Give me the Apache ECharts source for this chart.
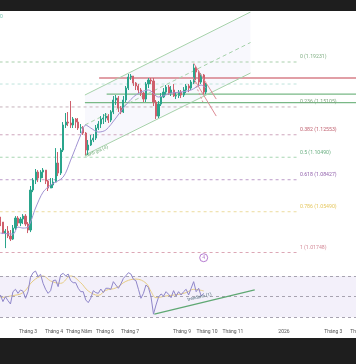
<!DOCTYPE html>
<html>
<head>
<meta charset="utf-8">
<style>html,body{margin:0;padding:0;background:#fff}#c{width:356px;height:364px}</style>
<script src="https://cdn.jsdelivr.net/npm/echarts@6/dist/echarts.min.js"></script>
</head>
<body>
<div id="c"></div>
<script>
// ---- Candles (every third calendar day from firstCandle)
const firstCandle = '2025-01-27';
const stepDays = 3;
const firstOpen = 1.0500;
const closes = [1.0454,1.0353,1.0371,1.0326,1.0298,1.0399,1.0491,1.0445,1.0482,1.0509,1.0436,1.0381,1.0748,1.0840,1.0913,1.0858,1.0913,1.0931,1.0830,1.0766,1.0794,1.0821,1.0996,1.0904,1.1115,1.1345,1.1372,1.1363,1.1345,1.1400,1.1372,1.1317,1.1320,1.1271,1.1115,1.1161,1.1207,1.1225,1.1317,1.1354,1.1400,1.1409,1.1427,1.1390,1.1464,1.1574,1.1592,1.1501,1.1464,1.1574,1.1684,1.1785,1.1794,1.1730,1.1703,1.1666,1.1638,1.1583,1.1721,1.1758,1.1749,1.1556,1.1427,1.1537,1.1602,1.1647,1.1693,1.1638,1.1666,1.1611,1.1615,1.1647,1.1620,1.1666,1.1703,1.1684,1.1739,1.1868,1.1831,1.1739,1.1804,1.1647,1.1721];
const highs = [1.0491,1.0454,1.0390,1.0417,1.0381,1.0427,1.0509,1.0509,1.0500,1.0527,1.0527,1.0454,1.0785,1.0858,1.0941,1.0931,1.0931,1.0950,1.0931,1.0840,1.0858,1.0858,1.1133,1.1097,1.1133,1.1372,1.1455,1.1464,1.1565,1.1418,1.1409,1.1409,1.1354,1.1335,1.1280,1.1207,1.1253,1.1262,1.1345,1.1381,1.1427,1.1445,1.1455,1.1445,1.1482,1.1611,1.1620,1.1611,1.1519,1.1611,1.1703,1.1813,1.1813,1.1794,1.1739,1.1721,1.1684,1.1647,1.1739,1.1776,1.1776,1.1776,1.1574,1.1565,1.1638,1.1684,1.1712,1.1712,1.1703,1.1721,1.1647,1.1666,1.1666,1.1693,1.1721,1.1721,1.1758,1.1904,1.1886,1.1849,1.1822,1.1813,1.1730];
const lows = [1.0417,1.0344,1.0215,1.0307,1.0280,1.0289,1.0381,1.0417,1.0417,1.0436,1.0417,1.0353,1.0362,1.0729,1.0803,1.0821,1.0821,1.0858,1.0803,1.0739,1.0766,1.0766,1.0821,1.0876,1.0886,1.1097,1.1317,1.1335,1.1317,1.1317,1.1317,1.1299,1.1271,1.1253,1.1069,1.1069,1.1152,1.1188,1.1207,1.1299,1.1317,1.1354,1.1372,1.1363,1.1372,1.1445,1.1528,1.1464,1.1445,1.1455,1.1556,1.1666,1.1758,1.1703,1.1666,1.1638,1.1611,1.1556,1.1556,1.1684,1.1721,1.1519,1.1400,1.1409,1.1519,1.1592,1.1620,1.1620,1.1611,1.1602,1.1583,1.1592,1.1592,1.1602,1.1638,1.1647,1.1666,1.1721,1.1758,1.1703,1.1721,1.1620,1.1629];
// ---- Moving average over the candles (candle index, price)
const maAt = [0,5,7,9,11,14,17,20,25,28,32,34,36,39,42,46,49,53,56,59,63,68,72,76,80,82];
const maValues = [1.0353,1.0344,1.0408,1.0399,1.0408,1.0583,1.0729,1.0794,1.0867,1.1023,1.1253,1.1345,1.1317,1.1280,1.1299,1.1409,1.1501,1.1602,1.1647,1.1666,1.1602,1.1638,1.1647,1.1666,1.1712,1.1684];
// ---- RSI pane
const rsiValues = [51.6,45.2,50,46.1,42.9,54.8,57.1,53.2,56.5,55.2,48.4,54.8,68.7,73.2,74.8,69.4,71.6,62.9,57.1,53.2,55.8,65.5,66.1,59.7,71,72.6,70,71.9,65.5,63.5,63.5,58.1,54.8,54.8,46.8,44.2,48.4,55.8,53.9,53.2,57.4,53.9,58.1,58.1,57.1,64.5,61.3,58.1,62.3,67.7,70.3,73.2,71.9,66.8,65.5,57.1,48.4,53.2,61.3,58.7,50,33,41.9,49.4,52.6,50.6,54.8,52.3,49,55.8,50.6,54.8,51.6,54.8,57.1,51.6,58.1,64.5,54.8,58.1,50.6,53.2];
const rsiMaAt = [0,4,9,13,17,20,24,28,32,35,39,42,46,50,54,58,60,62,66,71,74,77,81];
const rsiMaValues = [49,50.6,53.9,65.2,70,65.2,62.9,70,63.5,55.5,51.3,56.1,58.4,64.8,67,63.1,55,49,50.6,52.2,53.9,57.1,55.5];
const rsiLevels = [70,50,30];
const rsiRange = [22.5,77.75];
// ---- Fibonacci levels
const fibStart = '2025-01-26', fibEnd = '2026-01-16', fibLabelAt = '2026-01-20';
const fibPrices = [1.19231,1.15105,1.12553,1.10490,1.08427,1.05490,1.01748];
const fibLabels = ['0 (1.19231)','0.236 (1.15105)','0.382 (1.12553)','0.5 (1.10490)','0.618 (1.08427)','0.786 (1.05490)','1 (1.01748)'];
const fibTextColors = ['#7fae82','#7fa67f','#c0606f','#6bb083','#9160ab','#e5c75f','#d48a98'];
const fibLineColors = ['#a9d0ac','#c7b3bb','#cfa6bd','#a8d6b3','#bd9cc9','#ecdc9e','#dca7b5'];
const extraLevelPrice = 1.1721;
// ---- Horizontal zones
const zoneEnd = '2026-04-21';
const redLine = {from:'2025-05-25', price:1.1776};
const greenLineA = {from:'2025-06-03', price:1.1629};
const greenLineB = {from:'2025-05-08', price:1.1550};
// ---- Rising channel [start date, end date, start price, end price]
const channelDates = ['2025-05-08','2025-11-22'];
const channelTop = [1.1620,1.2382];
const channelMid = [1.1345,1.2102];
const channelLow = [1.1069,1.1822];
// ---- Small falling fork in the last weeks
const forkA = {dates:['2025-09-15','2025-10-12'], prices:[1.1913,1.1583]};
const forkB = {dates:['2025-09-14','2025-10-12'], prices:[1.1785,1.1427]};
const forkMid = {dates:['2025-09-16','2025-09-26'], prices:[1.1739,1.1556]};
// ---- RSI trend line
const rsiTrendDates = ['2025-07-30','2025-11-27'];
const rsiTrendValues = [33,56.6];
// ---- Notes
const channelNote = {text:'Kênh giá (4)', date:'2025-05-22', price:1.1100};
const trendNote = {text:'trendline (1)', date:'2025-09-22', rsi:49.5};
const marker = {text:'4', date:'2025-09-27', price:1.0127};
// ---- Axis
const axisStart = '2025-01-26T12:00:00', axisEnd = '2026-04-21T00:00:00';
const priceRange = [1.00325,1.2382];
const tickDates = ['2025-03-01','2025-04-01','2025-05-01','2025-06-01','2025-07-01','2025-09-01','2025-10-01','2025-11-01','2026-01-01','2026-03-01','2026-04-01'];
const tickLabels = ['Tháng 3','Tháng 4','Tháng Năm','Tháng 6','Tháng 7','Tháng 9','Tháng 10','Tháng 11','2026','Tháng 3','Tháng 4'];

const ts = s => new Date(s.length === 10 ? s + 'T00:00:00' : s).getTime();
const candleTime = i => ts(firstCandle) + i * stepDays * 86400000;
const candleData = closes.map((c, i) => [candleTime(i), i ? closes[i-1] : firstOpen, c, lows[i], highs[i]]);
const FONT = 'Roboto, "Liberation Sans", sans-serif';

function seg(dates, values, color, width, type, opacity, axis) {
  return {
    type:'line', xAxisIndex:axis||0, yAxisIndex:axis||0, silent:true, animation:false, showSymbol:false, symbol:'none',
    lineStyle:{color, width:width||1, type:type||'solid', opacity:opacity==null?1:opacity}, z:3,
    data:dates.map((d,i)=>[ts(d),values[i]])
  };
}
const series = [];
// channel fill
series.push({
  type:'custom', xAxisIndex:0, yAxisIndex:0, silent:true, animation:false, z:1, clip:true,
  data:[[ts(channelDates[0]),channelLow[0],channelTop[0],ts(channelDates[1]),channelLow[1],channelTop[1]]],
  renderItem:(p,api)=>({type:'polygon',shape:{points:[
    api.coord([api.value(0),api.value(1)]),api.coord([api.value(0),api.value(2)]),
    api.coord([api.value(3),api.value(5)]),api.coord([api.value(3),api.value(4)])
  ]},style:{fill:'rgba(140,130,215,0.06)'}}),
  encode:{x:[0,3],y:[1,2,4,5]}
});
fibPrices.forEach((p,i)=>series.push(seg([fibStart,fibEnd],[p,p],fibLineColors[i],1,[3,3])));
series.push(seg([fibStart,fibEnd],[extraLevelPrice,extraLevelPrice],'#bfe3dc',1,[3,3]));
series.push(seg([redLine.from,zoneEnd],[redLine.price,redLine.price],'#d77f89',1.6));
series.push(seg([greenLineA.from,zoneEnd],[greenLineA.price,greenLineA.price],'#79b886',1.3));
series.push(seg([greenLineB.from,zoneEnd],[greenLineB.price,greenLineB.price],'#79b886',1.3));
series.push(seg(channelDates,channelTop,'#a6d2aa',1));
series.push(seg(channelDates,channelMid,'#a6d2aa',1,[4,3]));
series.push(seg(channelDates,channelLow,'#a6d2aa',1));
series.push({
  type:'candlestick', xAxisIndex:0, yAxisIndex:0, silent:true, animation:false, z:4, barWidth:1.6,
  itemStyle:{color:'#2aa58c',color0:'#cf5f6c',borderColor:'#2aa58c',borderColor0:'#cf5f6c',borderWidth:1},
  encode:{x:0,y:[1,2,3,4]},
  data:candleData
});
series.push(Object.assign(seg(maAt.map(()=>firstCandle),maValues,'#a193d2',1),{
  data:maAt.map((a,i)=>[candleTime(a),maValues[i]]),smooth:0.3,z:5
}));
series.push(Object.assign(seg(forkA.dates,forkA.prices,'#dd8b95',1),{z:6}));
series.push(Object.assign(seg(forkB.dates,forkB.prices,'#dd8b95',1),{z:6}));
series.push(Object.assign(seg(forkMid.dates,forkMid.prices,'#dd8b95',1,[2,2]),{z:6}));
// fib labels
series.push({
  type:'custom', xAxisIndex:0, yAxisIndex:0, silent:true, animation:false, z:7, clip:false,
  data:fibPrices.map((p,i)=>[ts(fibLabelAt),p,i]),
  encode:{x:0,y:1},
  renderItem:(q,api)=>{
    const pt=api.coord([api.value(0),api.value(1)]); const i=api.value(2);
    return {type:'text',x:pt[0],y:pt[1]-5,style:{text:fibLabels[i],fill:fibTextColors[i],font:'5.2px '+FONT,textAlign:'left',textVerticalAlign:'middle'}};
  }
});
// channel note
series.push({
  type:'custom', xAxisIndex:0, yAxisIndex:0, silent:true, animation:false, z:7, clip:false,
  data:[[ts(channelNote.date),channelNote.price]], encode:{x:0,y:1},
  renderItem:(q,api)=>{
    const pt=api.coord([api.value(0),api.value(1)]);
    return {type:'text',x:pt[0],y:pt[1],rotation:23*Math.PI/180,style:{text:channelNote.text,fill:'#6aa873',font:'4.6px '+FONT,textAlign:'center',textVerticalAlign:'middle'}};
  }
});
// marker
series.push({
  type:'scatter', xAxisIndex:0, yAxisIndex:0, silent:true, animation:false, z:7, symbol:'circle', symbolSize:8,
  itemStyle:{color:'#fff',borderColor:'#a45cc4',borderWidth:1},
  label:{show:true,position:'inside',formatter:marker.text,fontSize:5,color:'#a45cc4',fontFamily:FONT},
  data:[[ts(marker.date),marker.price]]
});
// RSI
series.push({
  type:'line', xAxisIndex:1, yAxisIndex:1, silent:true, animation:false, showSymbol:false, symbol:'none', z:2,
  lineStyle:{width:0}, data:[],
  markArea:{silent:true,animation:false,itemStyle:{color:'#f3f0fa'},data:[[{yAxis:rsiLevels[0]},{yAxis:rsiLevels[2]}]]},
  markLine:{silent:true,animation:false,symbol:'none',label:{show:false},lineStyle:{color:'#a7a3b0',width:1,type:[3,3]},data:rsiLevels.map(v=>({yAxis:v}))}
});
series.push(Object.assign(seg(rsiMaAt.map(()=>firstCandle),rsiMaValues,'#e6cc85',1,'solid',1,1),{
  data:rsiMaAt.map((a,i)=>[candleTime(a),rsiMaValues[i]]),smooth:0.4,z:4
}));
series.push(Object.assign(seg(rsiValues.map(()=>firstCandle),rsiValues,'#8f86c9',1,'solid',1,1),{
  data:rsiValues.map((v,i)=>[candleTime(i),v]),z:5
}));
series.push(Object.assign(seg(rsiTrendDates,rsiTrendValues,'#5fa873',1.2,'solid',1,1),{z:6}));
series.push({
  type:'custom', xAxisIndex:1, yAxisIndex:1, silent:true, animation:false, z:7, clip:false,
  data:[[ts(trendNote.date),trendNote.rsi]], encode:{x:0,y:1},
  renderItem:(q,api)=>{
    const pt=api.coord([api.value(0),api.value(1)]);
    return {type:'text',x:pt[0],y:pt[1],rotation:13*Math.PI/180,style:{text:trendNote.text,fill:'#4f6c7c',font:'4.6px '+FONT,textAlign:'center',textVerticalAlign:'middle'}};
  }
});

const chart = echarts.init(document.getElementById('c'), null, {renderer:'canvas'});
const xBase = {type:'value',min:ts(axisStart),max:ts(axisEnd),scale:true,splitLine:{show:false},axisLine:{show:false},axisTick:{show:false},minorTick:{show:false}};
chart.setOption({
  animation:false,
  backgroundColor:'#ffffff',
  grid:[
    {left:0,top:12,width:376,height:256,outerBoundsMode:'none'},
    {left:0,top:268,width:376,height:57,outerBoundsMode:'none'}
  ],
  xAxis:[
    Object.assign({},xBase,{gridIndex:0,axisLabel:{show:false}}),
    Object.assign({},xBase,{gridIndex:1,axisLabel:{
      show:true,margin:4,fontSize:5,color:'#555',fontFamily:FONT,hideOverlap:false,
      customValues:tickDates.map(ts),
      formatter:v=>{const k=tickDates.map(ts).indexOf(+v);return k<0?'':tickLabels[k];}
    }})
  ],
  yAxis:[
    {type:'value',gridIndex:0,min:priceRange[0],max:priceRange[1],show:false,splitLine:{show:false}},
    {type:'value',gridIndex:1,min:rsiRange[0],max:rsiRange[1],show:false,splitLine:{show:false}}
  ],
  series,
  graphic:[
    {type:'rect',z:100,shape:{x:0,y:0,width:356,height:11},style:{fill:'#1e1e1e'},silent:true},
    {type:'rect',z:100,shape:{x:0,y:338,width:356,height:26},style:{fill:'#1e1e1e'},silent:true},
    {type:'text',z:100,left:0,top:14,silent:true,style:{text:'0',fill:'#7cc8b4',font:'5px '+FONT}}
  ]
});
</script>
</body>
</html>
